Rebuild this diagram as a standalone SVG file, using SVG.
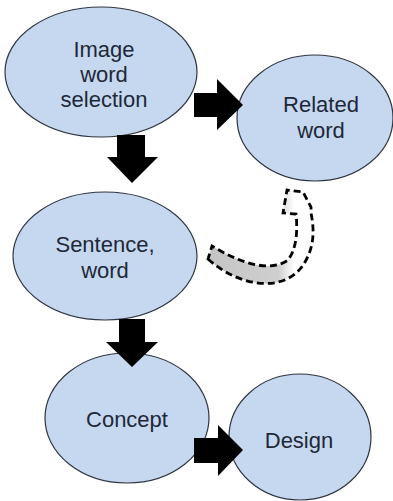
<svg xmlns="http://www.w3.org/2000/svg" width="393" height="501" viewBox="0 0 393 501">
<style>
.node ellipse{fill:#c6d8f0;stroke:#2f3540;stroke-width:1.2}
.node text{font-family:"Liberation Sans",Arial,sans-serif;font-size:22px;fill:#1e2838;text-anchor:middle}
.blk{fill:#000}
</style>
<defs>
<linearGradient id="gband" gradientUnits="userSpaceOnUse" x1="205" y1="0" x2="310" y2="0">
<stop offset="0" stop-color="#c4c4c4"/>
<stop offset="0.7" stop-color="#cfcfcf"/>
<stop offset="0.85" stop-color="#ffffff"/>
<stop offset="1" stop-color="#ffffff"/>
</linearGradient>
</defs>
<rect width="393" height="501" fill="#fff"/>
<g id="n-image">
<g class="node"><ellipse cx="101" cy="72" rx="96" ry="65"/>
<text x="104" y="57">Image</text><text x="104" y="82">word</text><text x="104" y="107">selection</text></g>
</g>
<g id="n-related">
<g class="node"><ellipse cx="315" cy="118" rx="78" ry="63"/>
<text x="321" y="112">Related</text><text x="321" y="138">word</text></g>
</g>
<g id="n-sentence">
<g class="node"><ellipse cx="105" cy="256" rx="92" ry="64"/>
<text x="105" y="252">Sentence,</text><text x="105" y="278">word</text></g>
</g>
<g id="n-concept">
<g class="node"><ellipse cx="127" cy="418" rx="82" ry="65"/>
<text x="127" y="427">Concept</text></g>
</g>
<g id="n-design">
<g class="node"><ellipse cx="300" cy="437" rx="71" ry="63"/>
<text x="299" y="448">Design</text></g>
</g>
<g id="connectors">
<path class="blk" d="M194,93 H217 V79 L243,105 L217,130 V117 H194 Z"/>
<path class="blk" d="M117,135 H145 V157 H158 L132,183 L107,157 H117 Z"/>
<path class="blk" d="M119,319 H145 V342 H158 L132,367 L106,342 H119 Z"/>
<path class="blk" d="M194,438 H218 V425 L243,450 L218,476 V463 H194 Z"/>
<path d="M208,259 C240,288 287,294 305,262 C315,245 314,228 311,213 L311,207 L303,192 L287,190 L283,213 L296,214 C298,232 296,250 288,260 C270,273 240,263 212,246 Z" fill="url(#gband)" stroke="#000" stroke-width="2.8" stroke-dasharray="7,4" stroke-linejoin="miter"/>
</g>
</svg>
